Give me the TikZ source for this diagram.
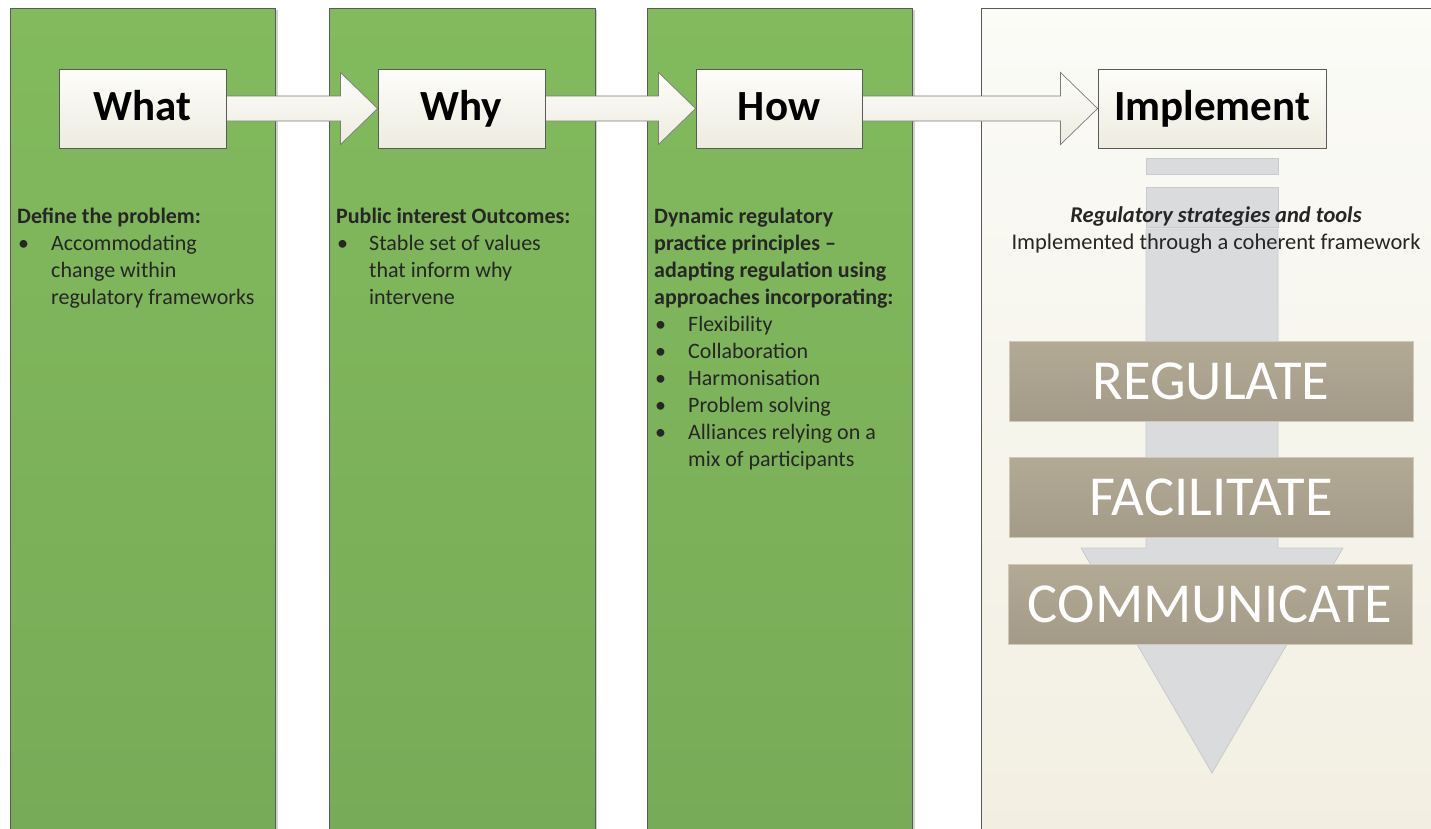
\documentclass[tikz,border=0pt]{standalone}
\usepackage{fontspec}
\setmainfont{Carlito}
\usetikzlibrary{calc}
\pgfdeclarelayer{back}
\pgfdeclarelayer{mid}
\pgfsetlayers{back,mid,main}
\definecolor{greentop}{HTML}{82BA5D}
\definecolor{greenbot}{HTML}{78AB57}
\definecolor{frame}{HTML}{5A5A5A}
\definecolor{creamtop}{HTML}{FDFDFA}
\definecolor{creambot}{HTML}{EEECE0}
\definecolor{paneltop}{HTML}{FBFBF7}
\definecolor{panelbot}{HTML}{F2EFE2}
\definecolor{tantop}{HTML}{B3AA96}
\definecolor{tanbot}{HTML}{A39B87}
\definecolor{tanline}{HTML}{CFC8B8}
\definecolor{arrgray}{HTML}{D9DBDC}
\definecolor{arrline}{HTML}{C8CACC}
\definecolor{txt}{HTML}{262626}
\newcommand{\bul}[1]{\makebox[#1][l]{\hspace{1pt}\textbullet}}
\tikzset{
  column/.style={draw=frame, line width=0.9pt, top color=greentop, bottom color=greenbot},
  colshadow/.style={fill=black!18, draw=none},
  stagebox/.style={draw=frame, line width=0.9pt, top color=creamtop, bottom color=creambot,
    minimum height=79pt, inner sep=0pt, text height=30pt, text depth=6pt,
    font=\fontsize{43}{50}\selectfont\bfseries, text=black},
  blockarrow/.style={draw=frame!80, line width=0.7pt, top color=creamtop, bottom color=creambot},
  coltext/.style={anchor=base west, inner sep=0pt, align=left, text=txt,
    font=\fontsize{22}{27}\selectfont},
  tanbox/.style={draw=tanline, line width=0.8pt, top color=tantop, bottom color=tanbot,
    minimum width=404pt, minimum height=80pt, inner sep=0pt, text=white,
    text height=36.4pt, text depth=0pt, font=\fontsize{56.5}{60}\selectfont},
  grayshape/.style={fill=arrgray, draw=arrline, line width=0.8pt}
}
\begin{document}
\begin{tikzpicture}[x=1pt,y=-1pt]
\useasboundingbox (0,0) rectangle (1431,828);
% stage boxes
\node[stagebox, minimum width=167pt] (what) at (142.5,108.5) {What};
\node[stagebox, minimum width=167pt] (why) at (461.5,108.5) {Why};
\node[stagebox, minimum width=166pt] (how) at (779,108.5) {How};
\node[stagebox, minimum width=228pt] (impl) at (1212,108.5) {Implement};
% background columns and panel
\begin{pgfonlayer}{back}
  \fill[white] (0,0) rectangle (1431,828);
  \fill[colshadow] (12,10) rectangle (278,830);
  \fill[colshadow] (331,10) rectangle (597,830);
  \fill[colshadow] (649,10) rectangle (915,830);
  \path[column] (10,8) rectangle (275,832);
  \path[column] (329,8) rectangle (595,832);
  \path[column] (647,8) rectangle (912,832);
  \path[top color=paneltop, bottom color=panelbot] (981,8) rectangle (1433,832);
  \draw[frame, line width=0.9pt] (981,832) -- (981,8) -- (1433,8);
\end{pgfonlayer}
% block arrows
\begin{pgfonlayer}{mid}
  \foreach \a/\b in {what/why, why/how, how/impl}{
    \draw[blockarrow] let \p1=(\a.east), \p2=(\b.west) in
      (\x1,\y1+12.5pt) -- (\x2-37pt,\y1+12.5pt) -- (\x2-37pt,\y1+36pt) -- (\x2,\y2)
      -- (\x2-37pt,\y1-36pt) -- (\x2-37pt,\y1-12.5pt) -- (\x1,\y1-12.5pt) -- cycle;
  }
  % vertical gray arrow in the panel
  \path[grayshape] (1146,158) rectangle (1278,174);
  \path[grayshape] (1146,187) rectangle (1278,227);
  \path[grayshape] (1146,229) -- (1278,229) -- (1278,548) -- (1343,548) -- (1212,773)
     -- (1081,548) -- (1146,548) -- cycle;
\end{pgfonlayer}
% column texts (anchor = baseline of the last line)
\node[coltext] (whattext) at (17,304) {\textbf{Define the problem:}\\
  \bul{34pt}Accommodating\\
  \hspace*{34pt}change within\\
  \hspace*{34pt}regulatory frameworks};
\node[coltext] (whytext) at (336,304) {\textbf{Public interest Outcomes:}\\
  \bul{33pt}Stable set of values\\
  \hspace*{33pt}that inform why\\
  \hspace*{33pt}intervene};
\node[coltext] (howtext) at (654,466) {\textbf{Dynamic regulatory}\\
  \textbf{practice principles --}\\
  \textbf{adapting regulation using}\\
  \textbf{approaches incorporating:}\\
  \bul{34pt}Flexibility\\
  \bul{34pt}Collaboration\\
  \bul{34pt}Harmonisation\\
  \bul{34pt}Problem solving\\
  \bul{34pt}Alliances relying on a\\
  \hspace*{34pt}mix of participants};
\node[anchor=base, inner sep=0pt, align=center, text=txt, font=\fontsize{22.5}{27}\selectfont]
  (impltext) at (1216,249) {\textbf{\itshape Regulatory strategies and tools}\\
  Implemented through a coherent framework};
% tan boxes
\node[tanbox] (reg) at (1211,381) {REGULATE};
\node[tanbox] (fac) at (1211,497.5) {FACILITATE};
\node[tanbox] (com) at (1210,604) {COMMUNICATE};
\end{tikzpicture}
\end{document}
